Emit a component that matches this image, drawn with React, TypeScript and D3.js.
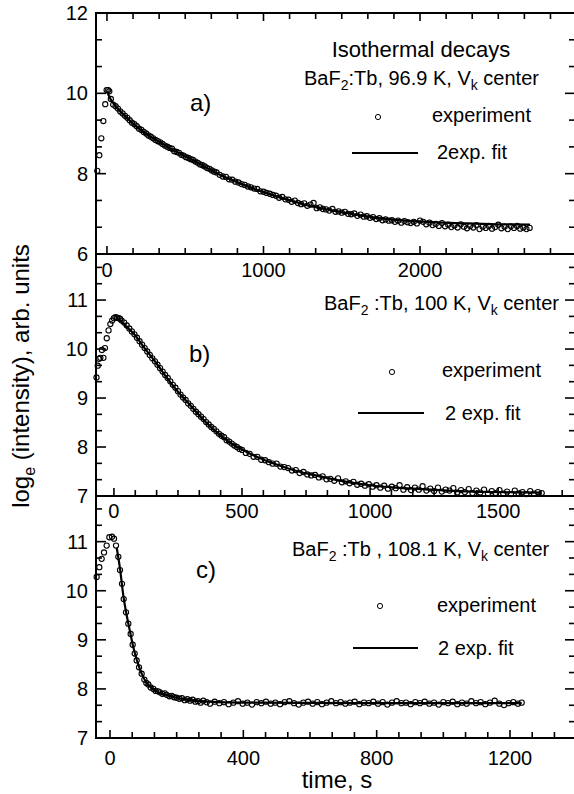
import React from "react";
import * as d3 from "d3";

// ---------- data ----------
// Panel a) BaF2:Tb, 96.9 K
const expA: [number, number][] = [
  [-62, 8.07], [-49, 8.46], [-36, 8.88], [-23, 9.31], [-11, 9.73], [-2, 10.08], [8, 10.08], [15, 10.05],
  [25, 9.86], [40, 9.72], [55, 9.68], [70, 9.62], [85, 9.55], [100, 9.5], [115, 9.44], [130, 9.39], [145, 9.33],
  [160, 9.27], [175, 9.23], [190, 9.18], [205, 9.12], [220, 9.09], [235, 9.04], [250, 9.0], [265, 8.95], [280, 8.92],
  [295, 8.88], [310, 8.84], [325, 8.81], [340, 8.78], [355, 8.74], [370, 8.7], [385, 8.67], [400, 8.64], [415, 8.62],
  [430, 8.56], [445, 8.54], [460, 8.52], [475, 8.47], [490, 8.45], [505, 8.41], [520, 8.39], [535, 8.36], [550, 8.34],
  [565, 8.3], [580, 8.27], [595, 8.23], [610, 8.21], [625, 8.18], [640, 8.14], [655, 8.12], [670, 8.08], [685, 8.05],
  [700, 8.03], [720, 7.97], [740, 7.93], [760, 7.92], [780, 7.86], [800, 7.85], [820, 7.8], [840, 7.78], [860, 7.74],
  [880, 7.72], [900, 7.68], [920, 7.66], [940, 7.63], [960, 7.62], [980, 7.56], [1000, 7.55], [1020, 7.52], [1040, 7.5],
  [1060, 7.47], [1080, 7.45], [1100, 7.4], [1120, 7.42], [1140, 7.36], [1160, 7.35], [1180, 7.3], [1200, 7.33],
  [1220, 7.27], [1240, 7.24], [1260, 7.26], [1280, 7.2], [1300, 7.23], [1320, 7.27], [1340, 7.14], [1360, 7.16],
  [1380, 7.12], [1400, 7.11], [1420, 7.08], [1440, 7.12], [1460, 7.05], [1480, 7.06], [1500, 7.03], [1520, 7.05],
  [1540, 7.0], [1560, 6.99], [1580, 7.01], [1600, 6.95], [1620, 6.98], [1640, 6.93], [1660, 6.94], [1680, 6.9],
  [1700, 6.92], [1720, 6.87], [1740, 6.89], [1760, 6.84], [1780, 6.86], [1800, 6.83], [1820, 6.84], [1840, 6.8],
  [1860, 6.83], [1880, 6.78], [1900, 6.82], [1920, 6.79], [1940, 6.77], [1960, 6.8], [1980, 6.76], [2000, 6.83],
  [2020, 6.8], [2040, 6.74], [2060, 6.78], [2080, 6.72], [2100, 6.75], [2120, 6.7], [2140, 6.77], [2160, 6.69],
  [2180, 6.73], [2200, 6.67], [2220, 6.71], [2240, 6.66], [2260, 6.74], [2280, 6.68], [2300, 6.64], [2320, 6.7],
  [2340, 6.66], [2360, 6.72], [2380, 6.62], [2400, 6.68], [2420, 6.65], [2440, 6.7], [2460, 6.63], [2480, 6.67],
  [2500, 6.73], [2520, 6.64], [2540, 6.68], [2560, 6.62], [2580, 6.69], [2600, 6.65], [2620, 6.7], [2640, 6.63],
  [2660, 6.66], [2680, 6.62], [2700, 6.65],
];
const fitA: [number, number][] = [
  [0, 10.05], [20, 9.88], [40, 9.76], [83, 9.56], [130, 9.38], [168, 9.24], [220, 9.08], [275, 8.93], [330, 8.8],
  [381, 8.68], [430, 8.57], [466, 8.5], [530, 8.37], [594, 8.24], [660, 8.1], [722, 7.97], [800, 7.84], [893, 7.69],
  [1000, 7.54], [1105, 7.41], [1210, 7.29], [1318, 7.18], [1420, 7.1], [1532, 7.02], [1620, 6.96], [1723, 6.9],
  [1850, 6.85], [2000, 6.81], [2150, 6.78], [2300, 6.76], [2500, 6.74], [2703, 6.73],
];

// Panel b) BaF2:Tb, 100 K
const expB: [number, number][] = [
  [-68, 9.42], [-63, 9.66], [-58, 9.8], [-53, 9.82], [-47, 9.98], [-41, 9.82], [-35, 10.02], [-28, 10.22],
  [-21, 10.38], [-14, 10.51], [-7, 10.58], [0, 10.63], [6, 10.65], [12, 10.64], [18, 10.63], [24, 10.62],
  [30, 10.58], [40, 10.54], [50, 10.48], [60, 10.42], [70, 10.36], [80, 10.3], [90, 10.23], [100, 10.16], [110, 10.09],
  [120, 10.02], [130, 9.95], [140, 9.88], [150, 9.81], [160, 9.75], [170, 9.68], [180, 9.61], [190, 9.54], [200, 9.47],
  [210, 9.41], [220, 9.34], [230, 9.27], [240, 9.21], [250, 9.14], [260, 9.07], [270, 9.01], [280, 8.96], [290, 8.89],
  [300, 8.84], [310, 8.78], [320, 8.72], [330, 8.67], [340, 8.62], [350, 8.57], [360, 8.51], [370, 8.46], [380, 8.41],
  [390, 8.37], [400, 8.32], [410, 8.27], [420, 8.23], [430, 8.2], [440, 8.14], [450, 8.11], [460, 8.07], [470, 8.03],
  [480, 8.0], [490, 7.96], [500, 7.94], [515, 7.88], [530, 7.86], [545, 7.8], [560, 7.8], [575, 7.74], [590, 7.73],
  [605, 7.69], [620, 7.66], [635, 7.66], [650, 7.6], [665, 7.59], [680, 7.57], [695, 7.52], [710, 7.53], [725, 7.47],
  [740, 7.49], [755, 7.44], [770, 7.42], [785, 7.43], [800, 7.38], [815, 7.4], [830, 7.34], [845, 7.35], [860, 7.31],
  [875, 7.36], [890, 7.28], [905, 7.3], [920, 7.26], [935, 7.29], [950, 7.23], [965, 7.25], [980, 7.21], [995, 7.24],
  [1010, 7.19], [1025, 7.22], [1040, 7.17], [1055, 7.21], [1070, 7.15], [1085, 7.19], [1100, 7.16], [1115, 7.22],
  [1130, 7.13], [1145, 7.18], [1160, 7.12], [1175, 7.17], [1190, 7.13], [1205, 7.2], [1220, 7.11], [1235, 7.15],
  [1250, 7.1], [1265, 7.17], [1280, 7.09], [1295, 7.13], [1310, 7.11], [1325, 7.16], [1340, 7.07], [1355, 7.12],
  [1370, 7.08], [1385, 7.14], [1400, 7.06], [1415, 7.11], [1430, 7.07], [1445, 7.13], [1460, 7.05], [1475, 7.1],
  [1490, 7.06], [1505, 7.12], [1520, 7.05], [1535, 7.09], [1550, 7.04], [1565, 7.11], [1580, 7.05], [1595, 7.08],
  [1610, 7.04], [1625, 7.1], [1640, 7.05], [1655, 7.08], [1670, 7.06],
];
const fitB: [number, number][] = [
  [10, 10.63], [20, 10.6], [50, 10.45], [76, 10.32], [115, 10.05], [167, 9.7], [200, 9.46], [245, 9.16], [297, 8.86],
  [336, 8.63], [388, 8.36], [450, 8.1], [518, 7.9], [580, 7.75], [648, 7.62], [720, 7.5], [778, 7.43], [850, 7.35],
  [909, 7.29], [1000, 7.22], [1100, 7.17], [1200, 7.14], [1300, 7.11], [1400, 7.09], [1500, 7.08], [1670, 7.07],
];

// Panel c) BaF2:Tb, 108.1 K
const expC: [number, number][] = [
  [-40, 10.28], [-32, 10.48], [-25, 10.65], [-18, 10.78], [-10, 10.92], [-2, 11.09], [6, 11.1], [12, 11.06],
  [18, 10.92], [25, 10.69], [30, 10.42], [36, 10.14], [41, 9.83], [48, 9.56], [55, 9.33], [62, 9.12], [68, 8.9],
  [74, 8.72], [80, 8.58], [87, 8.44], [95, 8.31], [103, 8.19], [109, 8.12], [115, 8.09], [122, 8.03], [130, 8.0],
  [137, 7.96], [144, 7.95], [150, 7.93], [157, 7.9], [164, 7.91], [170, 7.88], [178, 7.85], [185, 7.86], [192, 7.83],
  [200, 7.82], [208, 7.8], [216, 7.81], [224, 7.77], [232, 7.79], [240, 7.76], [248, 7.78], [256, 7.74], [264, 7.75],
  [272, 7.72], [280, 7.76], [290, 7.73], [300, 7.7], [314, 7.74], [328, 7.71], [342, 7.73], [356, 7.69], [370, 7.72],
  [384, 7.75], [398, 7.7], [412, 7.72], [426, 7.68], [440, 7.73], [454, 7.71], [468, 7.74], [482, 7.7], [496, 7.72],
  [510, 7.69], [524, 7.73], [538, 7.75], [552, 7.71], [566, 7.68], [580, 7.72], [594, 7.74], [608, 7.7], [622, 7.73],
  [636, 7.69], [650, 7.72], [664, 7.75], [678, 7.71], [692, 7.73], [706, 7.7], [720, 7.72], [734, 7.74], [748, 7.69],
  [762, 7.72], [776, 7.71], [790, 7.74], [804, 7.7], [818, 7.73], [832, 7.68], [846, 7.72], [860, 7.75], [874, 7.71],
  [888, 7.72], [902, 7.69], [916, 7.73], [930, 7.71], [944, 7.74], [958, 7.7], [972, 7.72], [986, 7.68], [1000, 7.73],
  [1014, 7.71], [1028, 7.74], [1042, 7.69], [1056, 7.72], [1070, 7.7], [1084, 7.75], [1098, 7.71], [1112, 7.73],
  [1126, 7.69], [1140, 7.72], [1154, 7.76], [1168, 7.7], [1182, 7.67], [1196, 7.71], [1210, 7.73], [1224, 7.7],
  [1235, 7.72],
];
const fitC: [number, number][] = [
  [20, 10.88], [30, 10.45], [40, 9.9], [50, 9.5], [60, 9.17], [70, 8.85], [80, 8.6], [90, 8.4], [100, 8.24],
  [110, 8.12], [125, 8.02], [140, 7.95], [160, 7.9], [180, 7.86], [200, 7.82], [240, 7.77], [300, 7.74], [400, 7.72],
  [600, 7.715], [1000, 7.71], [1235, 7.71],
];

// tick labels
const xTicksA = [0, 1000, 2000];
const yTicksA = [6, 8, 10, 12];
const xTicksB = [0, 500, 1000, 1500];
const yTicksB = [7, 8, 9, 10, 11];
const xTicksC = [0, 400, 800, 1200];
const yTicksC = [7, 8, 9, 10, 11];

const FONT = "'Liberation Sans', Arial, Helvetica, sans-serif";

type PanelProps = {
  left: number; right: number; top: number; bottom: number;
  xDomain: [number, number]; yDomain: [number, number];
  xMajor: number[]; xMajorStep: number; xMinorDiv: number;
  yMajor: number[]; yMajorStep: number; yMinorDiv: number;
  topTicks: boolean;
  exp: [number, number][]; fit: [number, number][];
  xLabelBaseline: number;
};

function isMajor(v: number, step: number) {
  const r = v / step;
  return Math.abs(r - Math.round(r)) < 1e-6;
}

function Panel(p: PanelProps) {
  const x = d3.scaleLinear().domain(p.xDomain).range([p.left, p.right]);
  const y = d3.scaleLinear().domain(p.yDomain).range([p.bottom, p.top]);
  const xs = p.xMajorStep / p.xMinorDiv;
  const ys = p.yMajorStep / p.yMinorDiv;
  const xMinor = d3.range(Math.ceil(p.xDomain[0] / xs - 1e-6) * xs, p.xDomain[1] + 1e-6, xs);
  const yMinor = d3.range(Math.ceil(p.yDomain[0] / ys - 1e-6) * ys, p.yDomain[1] + 1e-6, ys);
  const line = d3.line<[number, number]>().x(d => x(d[0])).y(d => y(d[1])).curve(d3.curveMonotoneX);
  const MJ = 10, MN = 6;
  return (
    <g>
      {p.exp.map((d, i) => (
        <circle key={"e" + i} cx={x(d[0])} cy={y(d[1])} r={2.6} fill="none" stroke="#000" strokeWidth={1.1} />
      ))}
      <path d={line(p.fit) || ""} fill="none" stroke="#000" strokeWidth={2.2} />
      {xMinor.map((v, i) => {
        const len = isMajor(v, p.xMajorStep) ? MJ - 2 : MN;
        return (
          <g key={"xt" + i}>
            <line x1={x(v)} x2={x(v)} y1={p.bottom} y2={p.bottom - len} stroke="#000" strokeWidth={1.6} />
            {p.topTicks && <line x1={x(v)} x2={x(v)} y1={p.top} y2={p.top + len} stroke="#000" strokeWidth={1.6} />}
          </g>
        );
      })}
      {yMinor.map((v, i) => {
        const len = isMajor(v, p.yMajorStep) ? MJ : MN;
        return (
          <g key={"yt" + i}>
            <line x1={p.left} x2={p.left + len} y1={y(v)} y2={y(v)} stroke="#000" strokeWidth={1.6} />
            <line x1={p.right} x2={p.right - len} y1={y(v)} y2={y(v)} stroke="#000" strokeWidth={1.6} />
          </g>
        );
      })}
      <rect x={p.left} y={p.top} width={p.right - p.left} height={p.bottom - p.top} fill="none" stroke="#000" strokeWidth={2} />
      {p.xMajor.map(v => (
        <text key={"xl" + v} x={x(v)} y={p.xLabelBaseline} textAnchor="middle" fontSize={20} fontFamily={FONT}>{v}</text>
      ))}
      {p.yMajor.map(v => (
        <text key={"yl" + v} x={88} y={y(v) + 7} textAnchor="end" fontSize={20} fontFamily={FONT}>{v}</text>
      ))}
    </g>
  );
}

export default function App() {
  const L = 96, R = 575;
  const legendText = { fontSize: 20, fontFamily: FONT } as const;
  return (
    <svg width={574} height={794} style={{ position: "absolute", left: 0, top: 0, background: "#fff" }}>
      <rect x={0} y={0} width={574} height={794} fill="#fff" />
      <Panel left={L} right={R} top={13} bottom={254} xDomain={[-70, 2990]} yDomain={[6, 12]}
        xMajor={xTicksA} xMajorStep={1000} xMinorDiv={6} yMajor={yTicksA} yMajorStep={2} yMinorDiv={3}
        topTicks={true} exp={expA} fit={fitA} xLabelBaseline={277} />
      <Panel left={L} right={R} top={254} bottom={496} xDomain={[-70, 1800]} yDomain={[7, 11.94]}
        xMajor={xTicksB} xMajorStep={500} xMinorDiv={6} yMajor={yTicksB} yMajorStep={1} yMinorDiv={3}
        topTicks={false} exp={expB} fit={fitB} xLabelBaseline={518} />
      <Panel left={L} right={R} top={496} bottom={738} xDomain={[-42, 1395]} yDomain={[7, 11.93]}
        xMajor={xTicksC} xMajorStep={400} xMinorDiv={6} yMajor={yTicksC} yMajorStep={1} yMinorDiv={3}
        topTicks={false} exp={expC} fit={fitC} xLabelBaseline={765} />

      {/* panel a annotations */}
      <text x={190} y={111} fontSize={24} fontFamily={FONT}>a)</text>
      <text x={421} y={57} textAnchor="middle" fontSize={22} fontFamily={FONT}>Isothermal decays</text>
      <text x={304} y={85} {...legendText}>BaF<tspan fontSize={14} dy={5}>2</tspan><tspan dy={-5}>:Tb, 96.9 K, V</tspan><tspan fontSize={14} dy={5}>k</tspan><tspan dy={-5}> center</tspan></text>
      <circle cx={378} cy={117} r={2.6} fill="none" stroke="#000" strokeWidth={1} />
      <text x={432} y={122} {...legendText}>experiment</text>
      <line x1={352} x2={418} y1={153} y2={153} stroke="#000" strokeWidth={2.2} />
      <text x={437} y={159} {...legendText}>2exp. fit</text>

      {/* panel b annotations */}
      <text x={189} y={362} fontSize={24} fontFamily={FONT}>b)</text>
      <text x={324} y={310} {...legendText}>BaF<tspan fontSize={14} dy={5}>2</tspan><tspan dy={-5}> :Tb, 100 K, V</tspan><tspan fontSize={14} dy={5}>k</tspan><tspan dy={-5}> center</tspan></text>
      <circle cx={392} cy={372} r={2.6} fill="none" stroke="#000" strokeWidth={1} />
      <text x={442} y={377} {...legendText}>experiment</text>
      <line x1={358} x2={424} y1={413} y2={413} stroke="#000" strokeWidth={2.2} />
      <text x={445} y={420} {...legendText}>2 exp. fit</text>

      {/* panel c annotations */}
      <text x={196} y={578} fontSize={24} fontFamily={FONT}>c)</text>
      <text x={292} y={556} {...legendText}>BaF<tspan fontSize={14} dy={5}>2</tspan><tspan dy={-5}> :Tb , 108.1 K, V</tspan><tspan fontSize={14} dy={5}>k</tspan><tspan dy={-5}> center</tspan></text>
      <circle cx={380} cy={606} r={2.6} fill="none" stroke="#000" strokeWidth={1} />
      <text x={437} y={612} {...legendText}>experiment</text>
      <line x1={353} x2={418} y1={648} y2={648} stroke="#000" strokeWidth={2.2} />
      <text x={438} y={655} {...legendText}>2 exp. fit</text>

      {/* axis titles */}
      <text transform="translate(29,376) rotate(-90)" textAnchor="middle" fontSize={24} fontFamily={FONT}>
        log<tspan fontSize={16} dy={6}>e</tspan><tspan dy={-6}> (intensity), arb. units</tspan>
      </text>
      <text x={337} y={788} textAnchor="middle" fontSize={24} fontFamily={FONT}>time, s</text>
    </svg>
  );
}
